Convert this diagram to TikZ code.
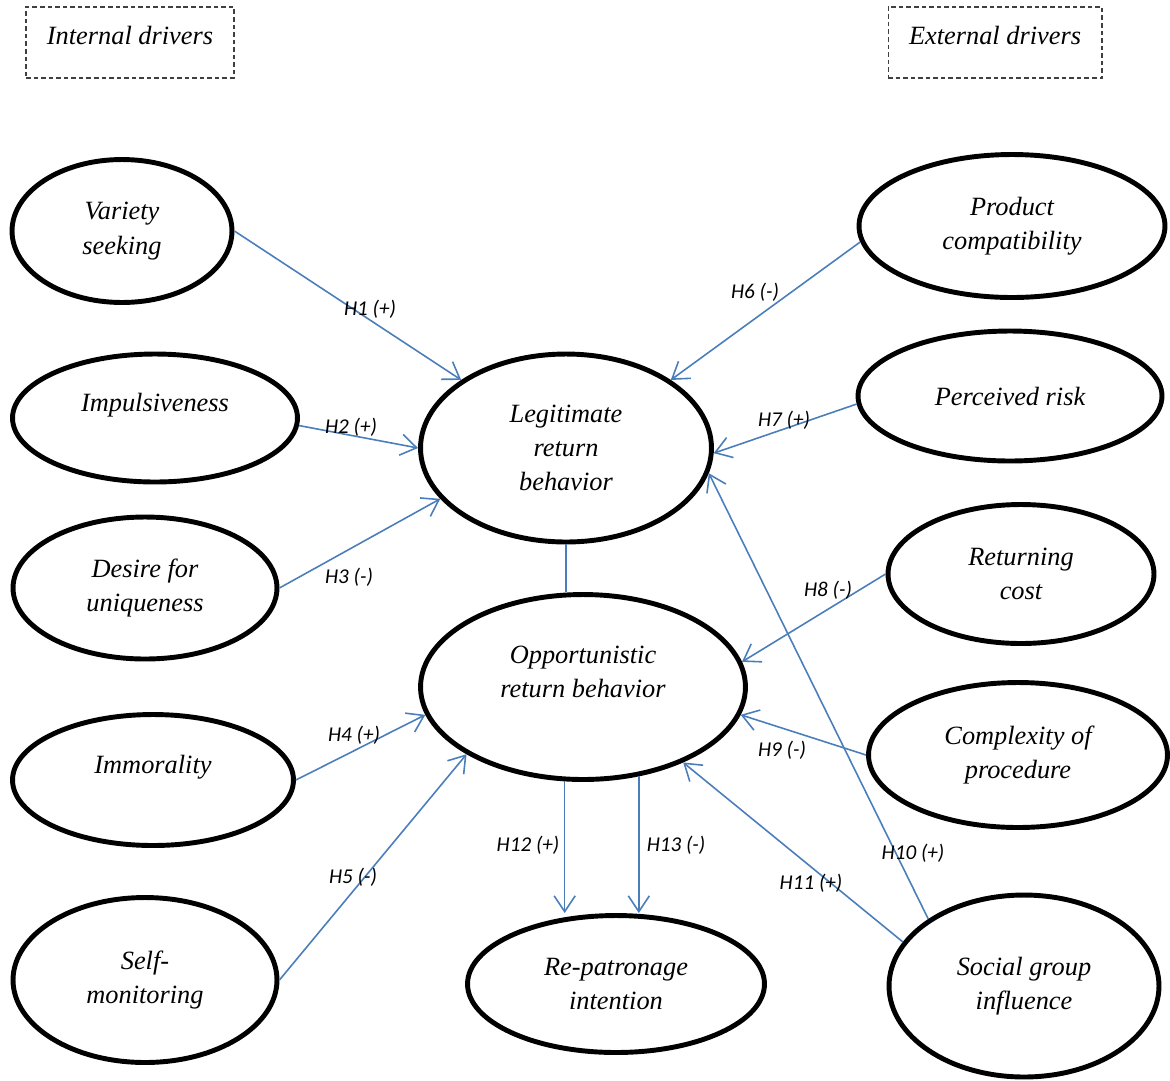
\documentclass[tikz,border=0pt]{standalone}
\usepackage{fontspec}
\setmainfont{Liberation Serif}
\newfontfamily\hypfont{Carlito}
\usetikzlibrary{arrows.meta,shapes.geometric}

\definecolor{linkblue}{RGB}{74,126,187}
\newcommand{\lift}[2]{\raisebox{#1}[\height][\depth]{#2}}

\tikzset{
  construct/.style={ellipse, draw, line width=2.8pt, align=center, inner sep=0pt,
    font=\fontsize{15}{19.5}\selectfont\itshape},
  driverbox/.style={draw=black!75, line width=0.6pt, dash pattern=on 2.6pt off 1.7pt,
    minimum height=1.42cm, font=\fontsize{15}{19}\selectfont\itshape},
  link/.style={draw=linkblue, line width=0.9pt, -{Straight Barb[length=9pt,width=12pt]}},
  hyp/.style={font=\hypfont\itshape\fontsize{12}{14}\selectfont, inner sep=1pt}
}

\begin{document}
\begin{tikzpicture}[x=0.02cm, y=-0.02cm]
\useasboundingbox (0,0) rectangle (1170,1080);

\node[driverbox, minimum width=4.16cm] (intl) at (130,42.5) {\lift{4pt}{Internal drivers}};
\node[driverbox, minimum width=4.28cm] (extl) at (995,42.5) {\lift{4pt}{External drivers}};

% internal drivers
\node[construct, minimum width=4.40cm, minimum height=2.86cm] (var) at (122,231) {Variety\\seeking};
\node[construct, minimum width=5.70cm, minimum height=2.56cm] (imp) at (155,418) {\lift{7.4pt}{Impulsiveness}};
\node[construct, minimum width=5.28cm, minimum height=2.84cm] (des) at (145,588) {Desire for\\uniqueness};
\node[construct, minimum width=5.62cm, minimum height=2.62cm] (imm) at (153,780) {\lift{7.4pt}{Immorality}};
\node[construct, minimum width=5.28cm, minimum height=3.30cm] (self) at (145,980) {Self-\\monitoring};

% return behavior
\node[construct, minimum width=5.82cm, minimum height=3.76cm] (leg) at (566,448) {Legitimate\\return\\behavior};
\node[construct, minimum width=6.50cm, minimum height=3.70cm] (opp) at (583,687) {\lift{8.5pt}{Opportunistic}\\\lift{8.5pt}{return behavior}};
\node[construct, minimum width=5.94cm, minimum height=2.74cm] (rep) at (616,984) {Re-patronage\\intention};

% external drivers
\node[construct, minimum width=6.12cm, minimum height=2.86cm] (prod) at (1012,226) {Product\\compatibility};
\node[construct, minimum width=6.08cm, minimum height=2.60cm] (per) at (1010,396) {Perceived risk};
\node[construct, minimum width=5.32cm, minimum height=2.78cm] (ret) at (1021,574) {Returning\\cost};
\node[construct, minimum width=5.98cm, minimum height=2.90cm] (com) at (1018,755) {Complexity of\\procedure};
\node[construct, minimum width=5.40cm, minimum height=3.64cm] (soc) at (1024,986) {Social group\\influence};

\draw[link] (var.east) -- (leg.147);
\draw[link] (imp.-3) -- (leg.west);
\draw[link] (des.east) -- (leg.202);
\draw[link, -] (leg.south) -- (leg.south |- opp.north);
\draw[link] (imm.east) -- (opp.190);
\draw[link] (self.east) -- (opp.210);
\draw[link] (prod.186) -- (leg.33);
\draw[link] (per.183) -- (leg.-2);
\draw[link] (ret.west) -- (opp.9);
\draw[link] (com.west) -- (opp.-10);
\draw[link] (soc.145) -- (leg.-10);
\draw[link] (soc.160) -- (opp.-37);
\draw[link] (opp.259) -- (opp.259 |- rep.north);
\draw[link] (opp.302) -- (opp.302 |- rep.north);

\node[hyp] (h1) at (370,309) {H1 (+)};
\node[hyp] (h2) at (351,427) {H2 (+)};
\node[hyp] (h3) at (349,577) {H3 (-)};
\node[hyp] (h4) at (354,735) {H4 (+)};
\node[hyp] (h5) at (353,877) {H5 (-)};
\node[hyp] (h6) at (755,292) {H6 (-)};
\node[hyp] (h7) at (784,420) {H7 (+)};
\node[hyp] (h8) at (828,590) {H8 (-)};
\node[hyp] (h9) at (782,750) {H9 (-)};
\node[hyp] (h10) at (913,853) {H10 (+)};
\node[hyp] (h11) at (811,883) {H11 (+)};
\node[hyp] (h12) at (528,845) {H12 (+)};
\node[hyp] (h13) at (676,845) {H13 (-)};

\end{tikzpicture}
\end{document}
